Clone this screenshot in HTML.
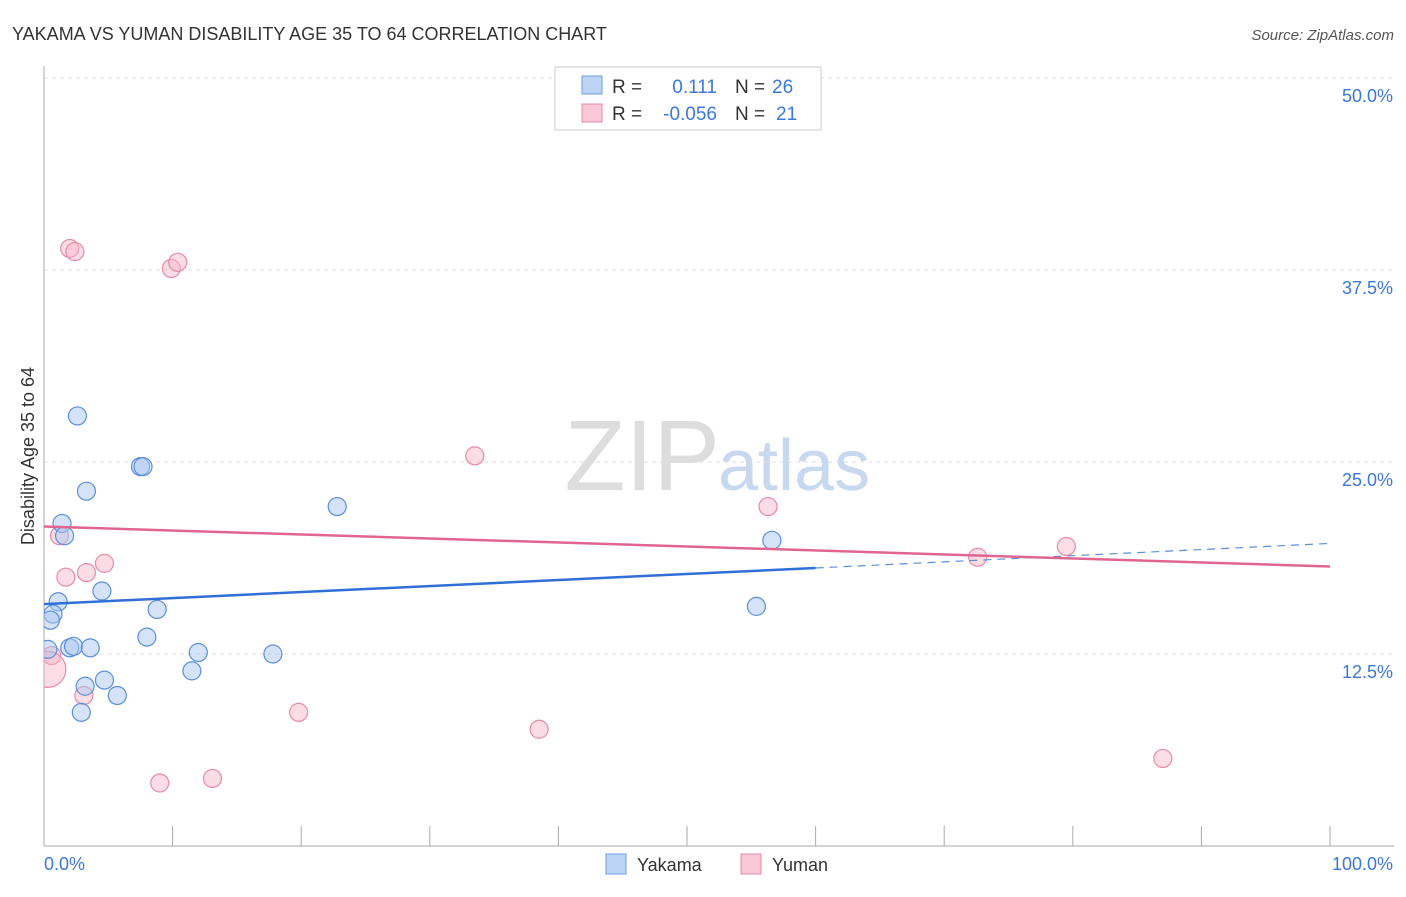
<!DOCTYPE html>
<html><head><meta charset="utf-8"><style>
body{margin:0;background:#fff;font-family:"Liberation Sans",sans-serif;}
svg text{font-family:"Liberation Sans",sans-serif;}
</style></head><body>
<svg id="c" width="1406" height="892" xmlns="http://www.w3.org/2000/svg">
<defs><clipPath id="plot"><rect x="44" y="60" width="1360" height="786"/></clipPath></defs>
<text x="12" y="40" font-size="18" fill="#333">YAKAMA VS YUMAN DISABILITY AGE 35 TO 64 CORRELATION CHART</text>
<text x="1394" y="40" font-size="15" fill="#555" font-style="italic" text-anchor="end">Source: ZipAtlas.com</text>
<text x="0" y="0" transform="translate(34,456) rotate(-90)" font-size="18" fill="#333" text-anchor="middle">Disability Age 35 to 64</text>
<text x="720" y="490" font-size="100" fill="#ddd" text-anchor="end" font-family="Liberation Serif">ZIP</text>
<text x="718" y="490" font-size="72" fill="#c8d8ee">atlas</text>
<g id="grid"></g><g id="axes"></g><g id="marks" clip-path="url(#plot)"></g>
<g>
<rect x="555" y="67" width="266" height="63" fill="#fff" stroke="#ccc"/>
<rect x="582" y="76" width="20" height="18" fill="#bcd5f5" stroke="#6b9de0"/>
<rect x="582" y="104" width="20" height="18" fill="#f9c7d6" stroke="#e88aa8"/>
<text x="612" y="93" font-size="19" fill="#333">R = </text><text x="717" y="93" font-size="19" fill="#3b78d8" text-anchor="end">0.111</text>
<text x="735" y="93" font-size="19" fill="#333">N = </text><text x="772" y="93" font-size="19" fill="#3b78d8">26</text>
<text x="612" y="120" font-size="19" fill="#333">R = </text><text x="717" y="120" font-size="19" fill="#3b78d8" text-anchor="end">-0.056</text>
<text x="735" y="120" font-size="19" fill="#333">N = </text><text x="776" y="120" font-size="19" fill="#3b78d8">21</text>
</g>
<g>
<rect x="606" y="854" width="20" height="20" fill="#bcd5f5" stroke="#6b9de0"/>
<text x="637" y="871" font-size="18" fill="#333">Yakama</text>
<rect x="741" y="854" width="20" height="20" fill="#f9c7d6" stroke="#e88aa8"/>
<text x="772" y="871" font-size="18" fill="#333">Yuman</text>
</g>
</svg>
<script>
const yTicks=[12.5,25,37.5,50];
const yTickLabels=["12.5%","25.0%","37.5%","50.0%"];
const blueX=[2.6,7.5,7.7,3.3,1.4,1.6,4.5,1.1,0.7,8.8,8.0,0.3,2.0,2.3,3.6,12.0,17.8,11.5,3.2,4.7,5.7,2.9,22.8,56.6,55.4,0.5];
const blueY=[28.0,24.7,24.7,23.1,21.0,20.2,16.6,15.9,15.1,15.4,13.6,12.8,12.9,13.0,12.9,12.6,12.5,11.4,10.4,10.8,9.8,8.7,22.1,19.9,15.6,14.7];
const pinkX=[2.0,2.4,9.9,10.4,33.5,56.3,72.6,79.5,87.0,1.2,1.7,3.3,4.7,0.6,3.1,19.8,38.5,9.0,13.1,0.3];
const pinkY=[38.9,38.7,37.6,38.0,25.4,22.1,18.8,19.5,5.7,20.2,17.5,17.8,18.4,12.4,9.8,8.7,7.6,4.1,4.4,11.5];
const pinkR=[9,9,9,9,9,9,9,9,9,9,9,9,9,9,9,9,9,9,9,18];
const blueTrend=[15.75,18.1,19.7];
const pinkTrend=[20.8,18.2];
const NS="http://www.w3.org/2000/svg";
const X=v=>44+v/100*1286, Y=v=>846-v/12.5*192;
function mk(t,a,p){const e=document.createElementNS(NS,t);for(const k in a)e.setAttribute(k,a[k]);document.getElementById(p).appendChild(e);return e;}
yTicks.forEach((t,i)=>{
 const g=mk('line',{x1:44,x2:1394,y1:Y(t),y2:Y(t),stroke:'#ddd','stroke-dasharray':'4,4'},'grid');
 
 
 const l=mk('text',{x:1393,y:Y(t)+24,'font-size':18,fill:'#3b78d8','text-anchor':'end'},'grid');
 l.textContent=yTickLabels[i];
 
 
});
const ax=mk('line',{x1:44,x2:44,y1:66,y2:846,stroke:'#aaa'},'axes');


const bx=mk('line',{x1:44,x2:1394,y1:846,y2:846,stroke:'#aaa'},'axes');


for(let i=0;i<=10;i++){const t=mk('line',{x1:X(i*10),x2:X(i*10),y1:826,y2:846,stroke:'#aaa'},'axes');
 
 }
const x0=mk('text',{x:44,y:870,'font-size':18,fill:'#3b78d8'},'axes');x0.textContent='0.0%';


const x1=mk('text',{x:1393,y:870,'font-size':18,fill:'#3b78d8','text-anchor':'end'},'axes');x1.textContent='100.0%';


pinkX.forEach((v,i)=>{const c=mk('circle',{cx:X(v),cy:Y(pinkY[i]),r:pinkR[i],fill:'rgba(249,180,200,0.45)',stroke:'#e88aa8','stroke-width':1.2},'marks');
 
 });
blueX.forEach((v,i)=>{const c=mk('circle',{cx:X(v),cy:Y(blueY[i]),r:9,fill:'rgba(170,200,240,0.5)',stroke:'#5b8fdb','stroke-width':1.2},'marks');
 
 });
const bl=mk('line',{x1:X(0),y1:Y(blueTrend[0]),x2:X(60),y2:Y(blueTrend[1]),stroke:'#2f6fd6','stroke-width':2.5},'marks');


const bd=mk('line',{x1:X(60),y1:Y(blueTrend[1]),x2:X(100),y2:Y(blueTrend[2]),stroke:'#5b8fdb','stroke-width':1.2,'stroke-dasharray':'8,6'},'marks');


const pl=mk('line',{x1:X(0),y1:Y(pinkTrend[0]),x2:X(100),y2:Y(pinkTrend[1]),stroke:'#e0668f','stroke-width':2.5},'marks');


</script>
</body></html>
